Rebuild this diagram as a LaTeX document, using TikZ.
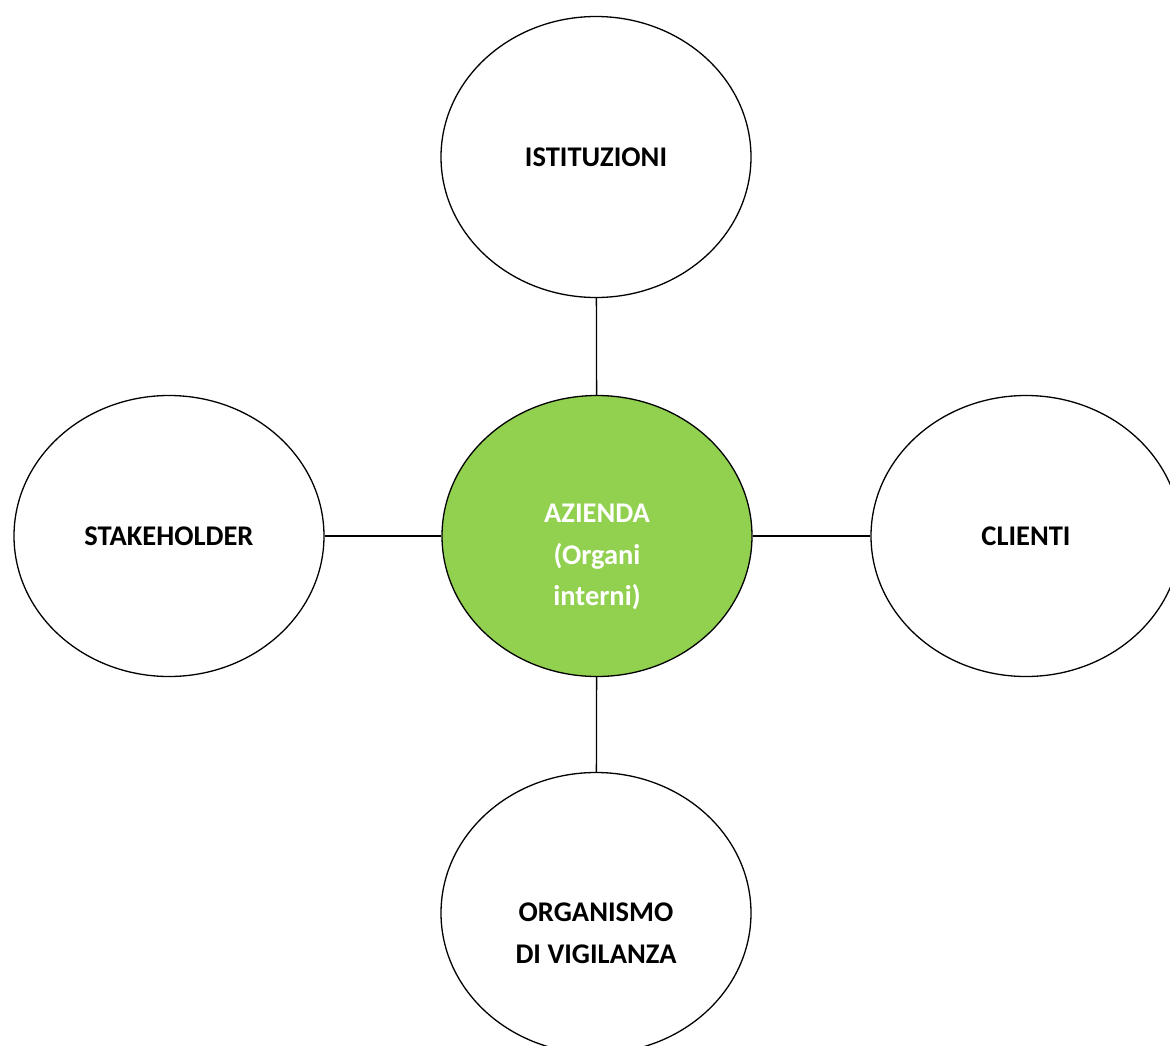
\documentclass[tikz,border=0pt]{standalone}
\usepackage{fontspec}
\setmainfont{Carlito}
\usetikzlibrary{shapes.geometric}
\definecolor{verde}{RGB}{146,208,80}

\begin{document}
\begin{tikzpicture}[x=1pt,y=-1pt,
  ente/.style={ellipse,draw=black,line width=1.3pt,minimum width=310pt,minimum height=281pt},
  testo/.style={align=center,font=\fontsize{28.5}{41.5}\selectfont\bfseries},
  legame/.style={line width=1.3pt}]
 \useasboundingbox (0,0) rectangle (1170,1045);
 \clip (0,0) rectangle (1170,1045);
 \node[ente,fill=verde] (azienda) at (597,536) {};
 \node[ente] (istituzioni) at (596,157) {};
 \node[ente] (stakeholder) at (169,536) {};
 \node[ente] (clienti) at (1026,536) {};
 \node[ente] (odv) at (596,913) {};
 % testi
 \node[testo,text=white] (azienda-t) at ([yshift=-21pt]azienda.center) {AZIENDA\\(Organi\\interni)};
 \node[testo] (istituzioni-t) at (istituzioni.center) {ISTITUZIONI};
 \node[testo] (stakeholder-t) at (stakeholder.center) {STAKEHOLDER};
 \node[testo] (clienti-t) at (clienti.center) {CLIENTI};
 \node[testo] (odv-t) at ([yshift=-20pt]odv.center) {ORGANISMO\\DI VIGILANZA};
 \draw[legame] (istituzioni) -- (azienda);
 \draw[legame] (stakeholder) -- (azienda);
 \draw[legame] (azienda) -- (clienti);
 \draw[legame] (azienda) -- (odv);
\end{tikzpicture}
\end{document}
